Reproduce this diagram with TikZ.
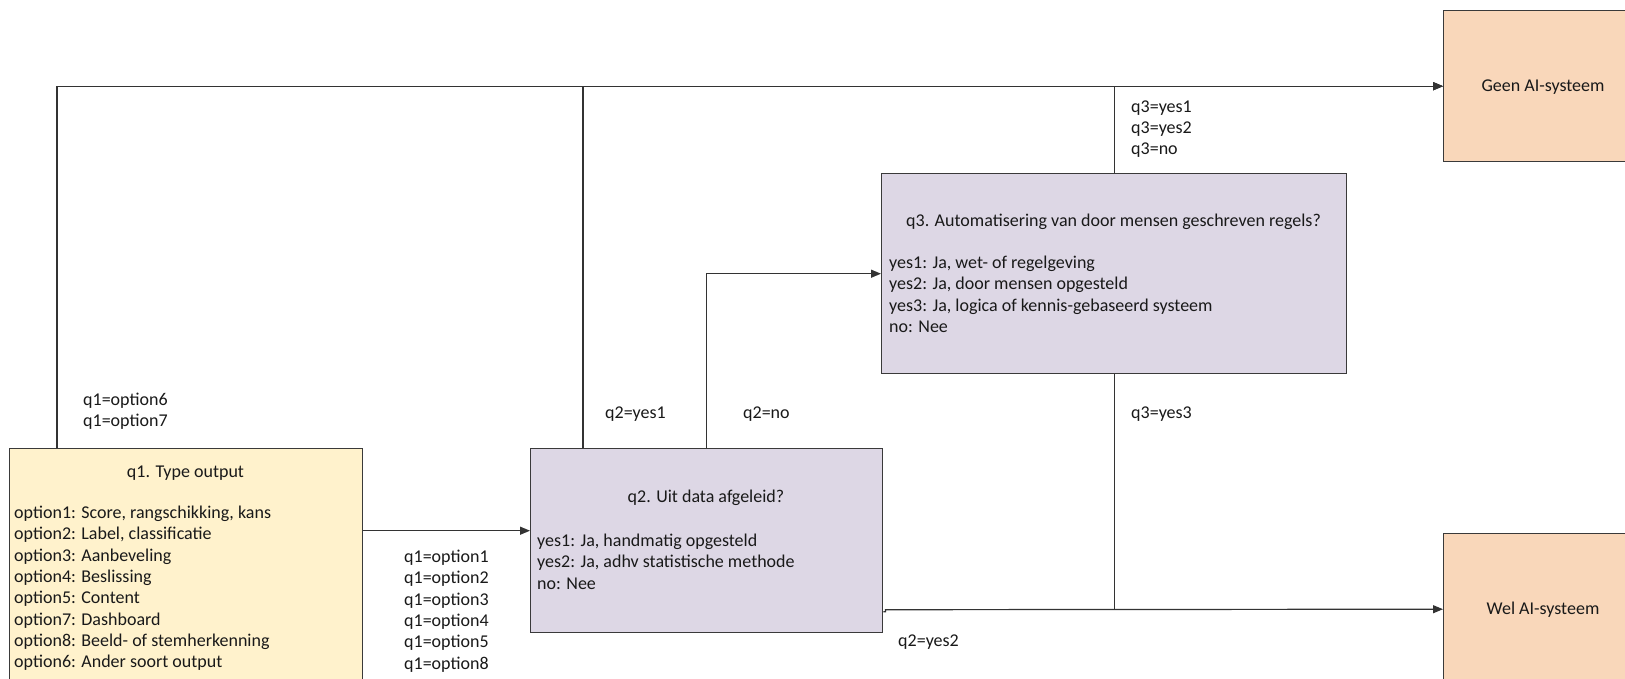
\documentclass[tikz,border=0pt]{standalone}
\usepackage{fontspec}
\setmainfont{Carlito}
\usetikzlibrary{arrows.meta}
\definecolor{outfill}{HTML}{FFF2CC}
\definecolor{qfill}{HTML}{DDD7E5}
\definecolor{endfill}{HTML}{F9D7BA}
\definecolor{edge}{HTML}{3A3A3A}
\begin{document}
\begin{tikzpicture}[x=1pt,y=-1pt,
  every node/.style={font=\fontsize{18}{21.3}\selectfont, inner sep=0pt, text=black!90},
  box/.style={draw=edge, line width=1.4pt, anchor=north west},
  txt/.style={anchor=base west},
  ttl/.style={anchor=base},
  wire/.style={line width=1.2pt, draw=black!80},
  arr/.style={wire, -{Triangle[length=10pt,width=8pt]}}
]
\clip (0,0) rectangle (1625,678);
\fill[white] (0,0) rectangle (1625,678);

% boxes
\node[box, fill=outfill, minimum width=353pt, minimum height=238pt] (q1) at (9,448) {};
\node[box, fill=qfill, minimum width=352pt, minimum height=184pt] (q2) at (530,448) {};
\node[box, fill=qfill, minimum width=465pt, minimum height=200pt] (q3) at (881,173) {};
\node[box, fill=endfill, minimum width=202pt, minimum height=151pt] (geen) at (1443,10) {};
\node[box, fill=endfill, minimum width=202pt, minimum height=151pt] (wel) at (1443,533) {};

% box texts
\node[ttl] (q1t) at (185.5,477.5) {q1. Type output};
\foreach \t [count=\i from 0] in {{option1: Score, rangschikking, kans},{option2: Label, classificatie},{option3: Aanbeveling},{option4: Beslissing},{option5: Content},{option7: Dashboard},{option8: Beeld- of stemherkenning},{option6: Ander soort output}}
  \node[txt] (q1o\i) at (14,518.5+21.3*\i) {\t};

\node[ttl] (q2t) at (706,502.5) {q2. Uit data afgeleid?};
\foreach \t [count=\i from 0] in {{yes1: Ja, handmatig opgesteld},{yes2: Ja, adhv statistische methode},{no: Nee}}
  \node[txt] (q2o\i) at (537,546.5+21.3*\i) {\t};

\node[ttl] (q3t) at (1113.5,226.5) {q3. Automatisering van door mensen geschreven regels?};
\foreach \t [count=\i from 0] in {{yes1: Ja, wet- of regelgeving},{yes2: Ja, door mensen opgesteld},{yes3: Ja, logica of kennis-gebaseerd systeem},{no: Nee}}
  \node[txt] (q3o\i) at (889,268.5+21.3*\i) {\t};

\node[ttl] (geent) at (1543,91.5) {Geen AI-systeem};
\node[ttl] (welt) at (1543,614.5) {Wel AI-systeem};

% connectors
\draw[arr] ([xshift=48pt]q1.north west) |- (geen.west);
\draw[arr] ([xshift=53pt]q2.north west) |- (geen.west);
\draw[arr] (q3.north) |- (geen.west);
\draw[arr] (q2.north) |- (q3.west);
\draw[arr] ([yshift=37pt]q1.east) -- ([yshift=10pt]q2.west);
\draw[arr] ([yshift=-71pt]q2.east) -- ++(2,0) -- ++(0,-2) -- (wel.west);
\draw[wire] (q3.south) -- (q3.south |- wel.west);

% connector labels
\node[txt] (l16) at (83,405.5) {q1=option6};
\node[txt] (l17) at (83,426.8) {q1=option7};
\foreach \t [count=\i from 0] in {1,2,3,4,5,8}
  \node[txt] (lq1\t) at (404,562.5+21.3*\i) {q1=option\t};
\node[txt] (lq2a) at (605,418.5) {q2=yes1};
\node[txt] (lq2b) at (743,418.5) {q2=no};
\node[txt] (lq2c) at (898,646.5) {q2=yes2};
\node[txt] (lq3a) at (1131,112) {q3=yes1};
\node[txt] (lq3b) at (1131,133.3) {q3=yes2};
\node[txt] (lq3c) at (1131,154.6) {q3=no};
\node[txt] (lq3d) at (1131,418.5) {q3=yes3};
\end{tikzpicture}
\end{document}
